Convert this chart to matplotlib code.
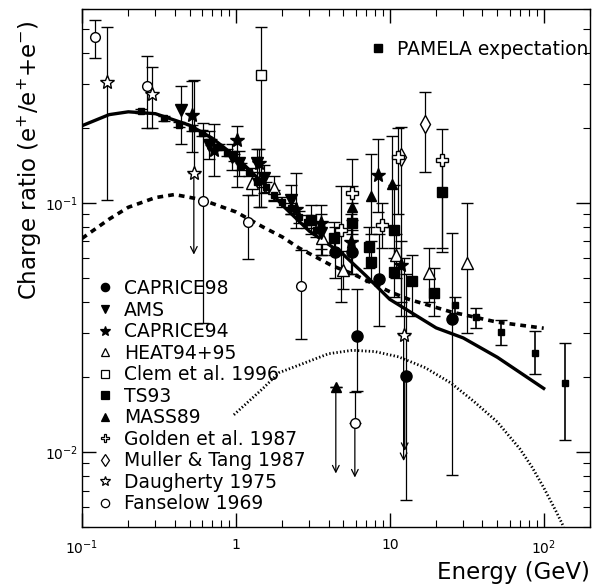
import matplotlib
matplotlib.use("Agg")
import matplotlib.pyplot as plt
import numpy as np
from matplotlib.lines import Line2D
from matplotlib.ticker import FixedLocator, LogLocator, NullFormatter, FuncFormatter

plt.rcParams['font.family'] = ['DejaVu Sans']
plt.rcParams['mathtext.fontset'] = 'dejavusans'

# ---------------- model curves ----------------
solid_x = [0.1, 0.15, 0.2, 0.3, 0.5, 0.7, 1.0, 1.5, 2.0, 3.0, 5.0, 7.0, 10.0, 20.0, 30.0, 50.0, 100.0]
solid_y = [0.204, 0.226, 0.232, 0.228, 0.205, 0.182, 0.153, 0.12, 0.098, 0.077, 0.062, 0.051, 0.041, 0.0315, 0.0287, 0.024, 0.018]

dashed_x = [0.1, 0.15, 0.2, 0.3, 0.4, 0.6, 1.0, 1.5, 2.0, 2.56, 4.2, 5.7, 10.0, 13.3, 25.0, 50.0, 100.0]
dashed_y = [0.072, 0.086, 0.096, 0.105, 0.108, 0.103, 0.092, 0.08, 0.073, 0.066, 0.056, 0.052, 0.044, 0.041, 0.0365, 0.0332, 0.0314]

dotted_x = [0.97, 1.5, 1.9, 2.56, 4.0, 5.7, 8.0, 11.4, 17.0, 25.0, 35.0, 50.0, 70.0, 84.0, 100.0, 120.0, 135.0]
dotted_y = [0.0141, 0.018, 0.0208, 0.0223, 0.0248, 0.0256, 0.0253, 0.0241, 0.0218, 0.0189, 0.016, 0.0132, 0.0103, 0.0087, 0.0072, 0.0058, 0.005]

# ---------------- data sets: x, y, lower end, upper end ----------------
pamela_x = [0.24, 0.34, 0.43, 0.52, 0.6, 0.69, 0.78, 0.87, 0.97, 1.08, 1.21, 1.37, 1.57, 1.77, 2.0, 2.27, 2.56, 2.89, 3.3,
            26.4, 36.6, 53.0, 87.6, 137.0]
pamela_y = [0.234, 0.219, 0.206, 0.2, 0.191, 0.176, 0.168, 0.159, 0.152, 0.14, 0.133, 0.121, 0.116, 0.108, 0.101, 0.095, 0.088, 0.084, 0.078,
            0.039, 0.0348, 0.0304, 0.025, 0.019]
pamela_lo = [0.229, 0.214, 0.201, 0.195, 0.186, 0.171, 0.163, 0.154, 0.147, 0.135, 0.128, 0.116, 0.111, 0.103, 0.096, 0.09, 0.083, 0.079, 0.073,
             0.036, 0.0315, 0.027, 0.0205, 0.0112]
pamela_hi = [0.239, 0.224, 0.211, 0.205, 0.196, 0.181, 0.173, 0.164, 0.157, 0.145, 0.138, 0.126, 0.121, 0.113, 0.106, 0.1, 0.093, 0.089, 0.083,
             0.042, 0.038, 0.034, 0.0305, 0.0275]

caprice98_x = [4.4, 5.66, 8.5, 6.1, 12.7, 25.2]
caprice98_y = [0.0636, 0.0636, 0.0495, 0.0292, 0.0202, 0.0342]
caprice98_lo = [0.05, 0.052, 0.032, 0.0175, 0.0064, 0.0081]
caprice98_hi = [0.08, 0.078, 0.075, 0.045, 0.052, 0.076]

ams_x = [0.44, 0.67, 0.94, 1.05, 1.37, 1.52, 2.27, 3.56]
ams_y = [0.236, 0.171, 0.153, 0.145, 0.145, 0.126, 0.103, 0.0758]
ams_lo = [0.173, 0.15, 0.135, 0.128, 0.125, 0.11, 0.09, 0.062]
ams_hi = [0.295, 0.195, 0.172, 0.162, 0.165, 0.142, 0.118, 0.09]

caprice94_x = [0.52, 0.72, 1.01, 1.41, 2.45, 3.56, 5.6, 8.4, 11.8]
caprice94_y = [0.225, 0.163, 0.179, 0.145, 0.0946, 0.083, 0.0697, 0.129, 0.0564]
caprice94_lo = [0.16, 0.128, 0.116, 0.096, 0.079, 0.065, 0.052, 0.092, 0.04]
caprice94_hi = [0.309, 0.208, 0.204, 0.165, 0.132, 0.098, 0.09, 0.181, 0.07]

heat_x = [1.27, 1.77, 3.6, 4.95, 10.9, 17.9, 31.6]
heat_y = [0.12, 0.115, 0.0723, 0.054, 0.0618, 0.0524, 0.0574]
heat_lo = [0.108, 0.102, 0.062, 0.045, 0.05, 0.04, 0.03]
heat_hi = [0.133, 0.128, 0.084, 0.064, 0.075, 0.066, 0.1]

clem_x = [1.45]
clem_y = [0.327]
clem_lo = [0.096]
clem_hi = [0.51]

ts93_x = [3.07, 4.33, 5.66, 7.3, 7.6, 10.6, 10.6, 13.9, 19.3, 21.7]
ts93_y = [0.0855, 0.0723, 0.083, 0.0666, 0.058, 0.078, 0.0528, 0.0486, 0.0435, 0.111]
ts93_lo = [0.075, 0.062, 0.07, 0.055, 0.048, 0.06, 0.042, 0.035, 0.035, 0.066]
ts93_hi = [0.098, 0.084, 0.1, 0.08, 0.07, 0.118, 0.066, 0.062, 0.055, 0.147]

mass89_x = [4.46, 5.66, 7.5, 10.4]
mass89_y = [0.0182, 0.096, 0.107, 0.119]
mass89_lo = [0.0182, 0.075, 0.075, 0.08]
mass89_hi = [0.0182, 0.117, 0.157, 0.186]

golden_x = [4.8, 5.66, 8.85, 11.3, 21.7]
golden_y = [0.078, 0.11, 0.0816, 0.153, 0.149]
golden_lo = [0.04, 0.085, 0.066, 0.09, 0.0636]
golden_hi = [0.117, 0.15, 0.1, 0.2, 0.198]

muller_x = [11.9, 16.9]
muller_y = [0.153, 0.208]
muller_lo = [0.035, 0.133]
muller_hi = [0.202, 0.279]

daugherty_x = [0.145, 0.285, 0.533, 12.3]
daugherty_y = [0.306, 0.274, 0.132, 0.0295]
daugherty_lo = [0.103, 0.2, 0.132, 0.0295]
daugherty_hi = [0.51, 0.35, 0.31, 0.06]

fanselow_x = [0.121, 0.264, 0.61, 1.2, 2.64, 5.93]
fanselow_y = [0.465, 0.295, 0.102, 0.084, 0.0464, 0.0131]
fanselow_lo = [0.383, 0.2, 0.033, 0.0596, 0.0284, 0.0131]
fanselow_hi = [0.54, 0.39, 0.21, 0.108, 0.0647, 0.0174]

# upper-limit arrows (x, from, to)
arrow_x = [0.533, 4.46, 5.93, 12.3, 12.5]
arrow_from = [0.132, 0.0182, 0.0131, 0.0295, 0.02]
arrow_to = [0.062, 0.0082, 0.0079, 0.0092, 0.0101]

legend_labels = ["CAPRICE98", "AMS", "CAPRICE94", "HEAT94+95", "Clem et al. 1996", "TS93", "MASS89",
                 "Golden et al. 1987", "Muller & Tang 1987", "Daugherty 1975", "Fanselow 1969"]

fig = plt.figure(figsize=(6.04, 5.84), dpi=100)
ax = fig.add_axes([82/604, 1-527/584, 508/604, 518/584])
ax.set_xscale('log')
ax.set_yscale('log')
ax.set_xlim(0.1, 200)
ax.set_ylim(0.005, 0.6)

ax.plot(solid_x, solid_y, '-', color='black', lw=2.4, zorder=3)
ax.plot(dashed_x, dashed_y, color='black', lw=2.6, dashes=(1.6, 1.4), zorder=3)
ax.plot(dotted_x, dotted_y, color='black', lw=2.0, dashes=(0.5, 0.8), zorder=3)

def eb(xs, ys, lo, hi, marker, filled, ms, lw=0.9):
    ys = np.array(ys); lo = np.array(lo); hi = np.array(hi)
    yerr = [ys - lo, hi - ys]
    ax.errorbar(xs, ys, yerr=yerr, fmt=marker, color='black', mfc='black' if filled else 'white',
                mec='black', ms=ms, mew=1.0, elinewidth=lw, capsize=4, capthick=lw, zorder=4)

eb(fanselow_x, fanselow_y, fanselow_lo, fanselow_hi, 'o', False, 7)
eb(daugherty_x, daugherty_y, daugherty_lo, daugherty_hi, '*', False, 10)
eb(clem_x, clem_y, clem_lo, clem_hi, 's', False, 7)
eb(heat_x, heat_y, heat_lo, heat_hi, '^', False, 8)
eb(muller_x, muller_y, muller_lo, muller_hi, 'd', False, 9)
eb(golden_x, golden_y, golden_lo, golden_hi, 'P', False, 8)
eb(mass89_x, mass89_y, mass89_lo, mass89_hi, '^', True, 7)
eb(ts93_x, ts93_y, ts93_lo, ts93_hi, 's', True, 6.5)
eb(caprice94_x, caprice94_y, caprice94_lo, caprice94_hi, '*', True, 10.5)
eb(ams_x, ams_y, ams_lo, ams_hi, 'v', True, 8.5)
eb(caprice98_x, caprice98_y, caprice98_lo, caprice98_hi, 'o', True, 8)
eb(pamela_x, pamela_y, pamela_lo, pamela_hi, 's', True, 5, lw=1.2)

for xa, y0, y1 in zip(arrow_x, arrow_from, arrow_to):
    ax.annotate('', xy=(xa, y1), xytext=(xa, y0),
                arrowprops=dict(arrowstyle='->', lw=0.9, color='black', shrinkA=0, shrinkB=0,
                                mutation_scale=12))

# ticks
ax.tick_params(which='both', direction='in', top=True, right=True)
ax.tick_params(which='major', length=10, width=1.0, labelsize=10, pad=8)
ax.tick_params(axis='y', which='major', pad=3)
ax.tick_params(which='minor', length=5, width=0.8)
ax.xaxis.set_major_locator(FixedLocator([0.1, 1, 10, 100]))
ax.xaxis.set_minor_locator(LogLocator(base=10, subs=np.arange(2, 10), numticks=20))
ax.yaxis.set_major_locator(FixedLocator([0.01, 0.1]))
ax.yaxis.set_minor_locator(LogLocator(base=10, subs=np.arange(2, 10), numticks=20))
ax.xaxis.set_minor_formatter(NullFormatter())
ax.yaxis.set_minor_formatter(NullFormatter())
xlab = {0.1: r'$10^{-1}$', 1: '1', 10: '10', 100: r'$10^{2}$'}
ylab = {0.01: r'$10^{-2}$', 0.1: r'$10^{-1}$'}
ax.xaxis.set_major_formatter(FuncFormatter(lambda v, p: xlab.get(round(v, 3), '')))
ax.yaxis.set_major_formatter(FuncFormatter(lambda v, p: ylab.get(round(v, 3), '')))
for s in ax.spines.values():
    s.set_linewidth(1.0)

fig.text(590/604, 1-572/584, 'Energy (GeV)', ha='right', va='center', fontsize=16.5)
fig.text(30/604, 1-160/584, r'Charge ratio (e$^{+}$/e$^{+}$+e$^{-}$)', ha='center', va='center',
         rotation=90, fontsize=16.5)

# legends
markers = [('o', True), ('v', True), ('*', True), ('^', False), ('s', False), ('s', True), ('^', True),
           ('P', False), ('d', False), ('*', False), ('o', False)]
handles = [Line2D([], [], ls='none', marker=m, color='black', mfc='black' if f else 'white', mec='black',
                  ms=6 if m != '*' else 7, mew=0.9) for m, f in markers]
leg = ax.legend(handles, legend_labels, loc='upper left', bbox_to_anchor=((97-82)/508, (527-279)/518),
                frameon=False, fontsize=13.5, handlelength=0.9, handletextpad=0.55, labelspacing=0.135,
                borderpad=0, borderaxespad=0)
ax.add_artist(leg)
ph = [Line2D([], [], ls='none', marker='s', color='black', ms=6)]
ax.legend(ph, ['PAMELA expectation'], loc='upper right', bbox_to_anchor=((588-82)/508, (527-40)/518),
          frameon=False, fontsize=13.5, handlelength=0.9, handletextpad=0.55, borderpad=0, borderaxespad=0)

fig.savefig('out.png', dpi=100)
